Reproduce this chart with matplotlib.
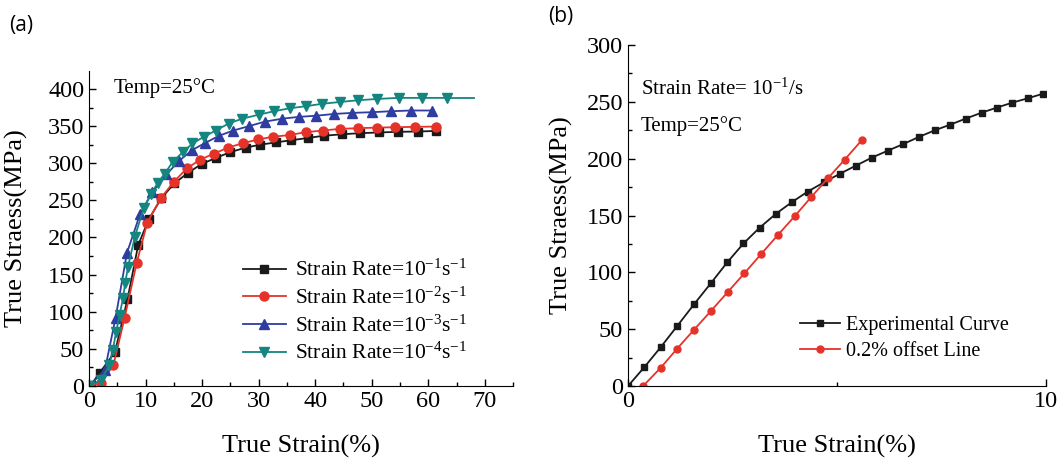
import matplotlib
matplotlib.use("Agg")
import matplotlib.pyplot as plt
from matplotlib.ticker import MultipleLocator

plt.rcParams['font.family'] = ['Liberation Serif', 'DejaVu Serif']
plt.rcParams['mathtext.fontset'] = 'custom'
plt.rcParams['mathtext.rm'] = 'Liberation Serif'
plt.rcParams['mathtext.it'] = 'Liberation Serif:italic'
plt.rcParams['mathtext.bf'] = 'Liberation Serif:bold'

# ---- panel (a) data: true strain (%) vs true stress (MPa) ----
strain_r1 = [0, 0.4, 1.9, 4.6, 6.8, 8.7, 10.6, 12.8, 15.1, 17.5, 19.9, 22.4, 25.0, 27.7,
             30.3, 33.0, 35.8, 38.7, 41.5, 44.8, 48.0, 51.3, 54.7, 58.2, 61.4]
stress_r1 = [0, 2, 18, 46, 117, 190, 225, 253, 273, 287, 299, 307, 315, 321,
             325, 328, 331, 334, 337, 339, 340.5, 341.4, 342.3, 342.7, 343.5]

strain_r2 = [0, 2.1, 4.3, 6.3, 8.4, 10.3, 12.7, 15.0, 17.3, 19.7, 22.1, 24.6, 27.2,
             29.9, 32.5, 35.5, 38.3, 41.3, 44.4, 47.6, 50.9, 54.2, 57.7, 61.4]
stress_r2 = [0, 4, 28, 92, 165, 220, 253, 275, 293, 305, 313, 321, 327,
             332, 335.6, 338, 341.8, 344, 346.3, 347.2, 348, 348.5, 349, 349.4]

strain_r3 = [0, 2.8, 4.7, 6.7, 9.0, 11.2, 13.7, 15.9, 18.3, 20.6, 23.0, 25.5, 28.3,
             31.1, 34.2, 37.1, 40.2, 43.4, 46.6, 50.0, 53.4, 56.9, 60.7]
stress_r3 = [0, 21.5, 92, 179, 231, 261, 285, 303, 318, 327.5, 337, 344, 350,
             356, 360, 362.4, 364, 366.4, 367.8, 368.7, 370, 371, 371]

strain_r4 = [0, 2.1, 3.6, 4.2, 4.8, 5.4, 6.0, 6.4, 6.9, 8.1, 9.7, 10.9, 12.2, 13.4,
             14.8, 16.6, 18.3, 20.3, 22.4, 24.7, 27.1, 30.1, 32.7, 35.5, 38.3, 41.2,
             44.4, 47.6, 51.0, 54.8, 58.9, 63.3]
stress_r4 = [0, 8, 28, 48.5, 73, 95.6, 118, 139, 160.7, 201, 240, 258, 274, 286,
             302, 315, 326.6, 335.6, 344, 353.5, 360, 365.5, 370, 374, 376.7, 380,
             382.5, 384.8, 386.6, 388, 388, 388]
tail_strain_r4 = [63.3, 68.1]
tail_stress_r4 = [388, 388]

rate_labels = [r'Strain Rate=10$^{\mathrm{-}1}$s$^{\mathrm{-}1}$', r'Strain Rate=10$^{\mathrm{-}2}$s$^{\mathrm{-}1}$',
               r'Strain Rate=10$^{\mathrm{-}3}$s$^{\mathrm{-}1}$', r'Strain Rate=10$^{\mathrm{-}4}$s$^{\mathrm{-}1}$']

# ---- panel (b) data ----
exp_strain = [0, 0.39, 0.78, 1.18, 1.58, 1.98, 2.37, 2.76, 3.15, 3.54, 3.92, 4.30, 4.69,
              5.06, 5.45, 5.83, 6.21, 6.58, 6.96, 7.34, 7.71, 8.08, 8.46, 8.82, 9.19,
              9.56, 9.92]
exp_stress = [0, 16.6, 34.1, 53, 72, 90.4, 108.7, 125.4, 139.4, 151.6, 161.8, 171.1,
              179.3, 186.6, 193.9, 200.9, 207, 212.8, 219.2, 225, 230, 235.3, 240.5,
              244.9, 249.3, 253.1, 257.1]
off_strain = [0.36, 0.78, 1.17, 1.58, 1.98, 2.38, 2.78, 3.18, 3.58, 3.99, 4.38, 4.78,
              5.18, 5.59]
off_stress = [0, 16, 32.7, 49.6, 65.9, 82.5, 99.1, 116, 132.7, 149.6, 166.2, 182.8,
              199.1, 216.3]

c_black = '#1a1a1a'
c_red = '#e5332a'
c_blue = '#2e3d9f'
c_teal = '#14857f'

fig = plt.figure(figsize=(10.6, 4.59), dpi=100)
ax1 = fig.add_axes([0.084, 0.159, 0.400, 0.686])
ax2 = fig.add_axes([0.5925, 0.159, 0.3945, 0.743])

lw = 1.3
ax1.plot(strain_r1, stress_r1, '-s', color=c_black, lw=lw, ms=5.5, label=rate_labels[0])
ax1.plot(strain_r2, stress_r2, '-o', color=c_red, lw=lw, ms=6.5, label=rate_labels[1])
ax1.plot(strain_r3, stress_r3, '-^', color=c_blue, lw=lw, ms=7, label=rate_labels[2])
ax1.plot(strain_r4, stress_r4, '-v', color=c_teal, lw=lw, ms=7, label=rate_labels[3])
ax1.plot(tail_strain_r4, tail_stress_r4, '-', color=c_teal, lw=lw)

ax2.plot(exp_strain, exp_stress, '-s', color=c_black, lw=lw, ms=4.8, label='Experimental Curve')
ax2.plot(off_strain, off_stress, '-o', color=c_red, lw=lw, ms=5, label='0.2% offset Line')

for ax in (ax1, ax2):
    ax.spines['top'].set_visible(False)
    ax.spines['right'].set_visible(False)
    ax.tick_params(which='both', direction='in', labelsize=17.5, width=1)
    ax.tick_params(which='major', length=5)
    ax.tick_params(which='minor', length=3)

ax1.set_xlim(0, 75)
ax1.set_ylim(0, 424)
ax1.xaxis.set_major_locator(MultipleLocator(10))
ax1.xaxis.set_minor_locator(MultipleLocator(5))
ax1.yaxis.set_major_locator(MultipleLocator(50))
ax1.yaxis.set_minor_locator(MultipleLocator(25))

ax2.set_xlim(0, 10)
ax2.set_ylim(0, 300)
ax2.set_xticks([0, 10])
ax2.xaxis.set_minor_locator(MultipleLocator(5))
ax2.yaxis.set_major_locator(MultipleLocator(50))
ax2.yaxis.set_minor_locator(MultipleLocator(25))

ax1.set_xlabel('True Strain(%)', fontsize=19)
ax1.set_ylabel('True Straess(MPa)', fontsize=19)
ax1.xaxis.set_label_coords(0.5, -0.155)
ax1.yaxis.set_label_coords(-0.145, 0.5)
ax2.set_xlabel('True Strain(%)', fontsize=19)
ax2.set_ylabel('True Straess(MPa)', fontsize=19)
ax2.xaxis.set_label_coords(0.5, -0.143)
ax2.yaxis.set_label_coords(-0.132, 0.5)

ax1.text(0.057, 0.946, 'Temp=25°C', transform=ax1.transAxes, fontsize=15, va='center')
ax2.text(0.031, 0.871, r'Strain Rate= 10$^{\mathrm{-}1}$/s', transform=ax2.transAxes, fontsize=15, va='center')
ax2.text(0.031, 0.762, 'Temp=25°C', transform=ax2.transAxes, fontsize=15, va='center')

ax1.legend(loc='upper left', bbox_to_anchor=(0.363, 0.40), frameon=False, fontsize=15.5,
           handlelength=2.0, handletextpad=0.4, labelspacing=0.3, borderpad=0, borderaxespad=0)
ax2.legend(loc='upper left', bbox_to_anchor=(0.411, 0.205), frameon=False, fontsize=14.5,
           handlelength=2.0, handletextpad=0.3, labelspacing=0.35, borderpad=0, borderaxespad=0)

fig.text(0.009, 0.945, '(a)', fontsize=15, family='Open Sans', va='center')
fig.text(0.517, 0.963, '(b)', fontsize=15, family='Open Sans', va='center')

fig.savefig('out.png', dpi=100)
